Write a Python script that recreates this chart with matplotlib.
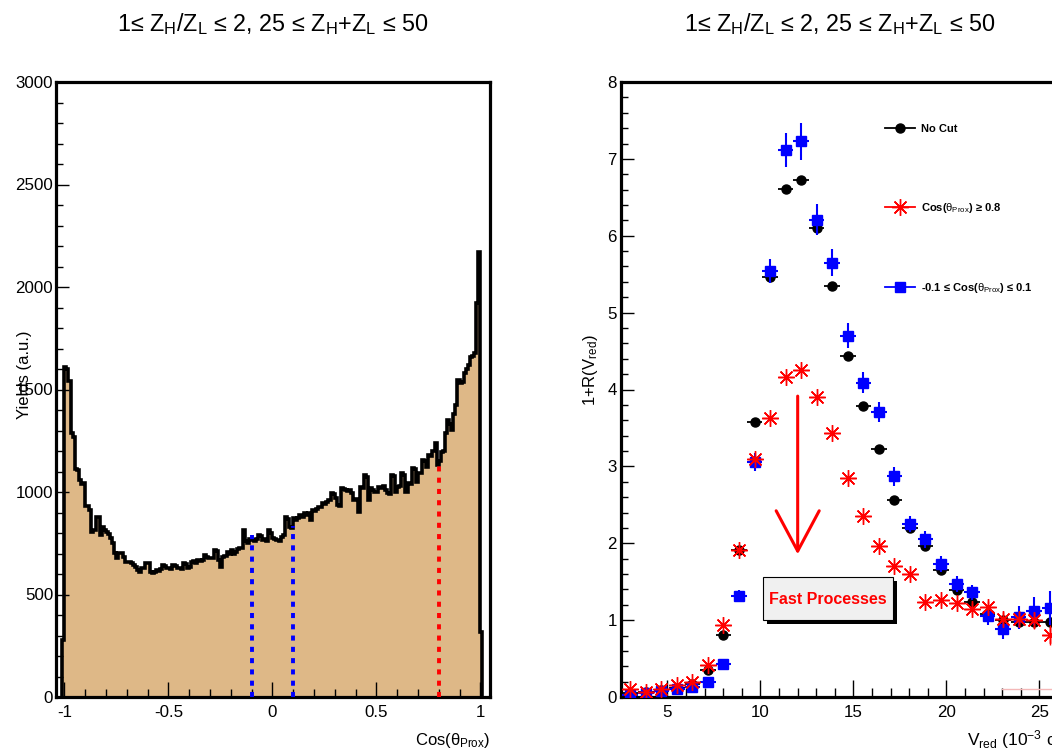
import numpy as np
import matplotlib
matplotlib.use("Agg")
import matplotlib.pyplot as plt
from matplotlib.lines import Line2D
from matplotlib.patches import Rectangle
from matplotlib.ticker import MultipleLocator

plt.rcParams['font.family'] = ['Liberation Sans', 'DejaVu Sans']
plt.rcParams['mathtext.fontset'] = 'custom'
plt.rcParams['mathtext.rm'] = 'Liberation Sans'
plt.rcParams['mathtext.it'] = 'Liberation Sans'
plt.rcParams['mathtext.bf'] = 'Liberation Sans:bold'

# ---------------- Left panel: Cos(theta_Prox) histogram ----------------
cos_lo, cos_hi, cos_width = -1.01, 1.01, 0.01
cos_counts = [
    277,
    1608, 1600, 1540, 1290, 1270, 1110, 1105, 1060, 1040, 1045,
    930, 930, 912, 806, 815, 880, 880, 790, 831, 815,
    806, 796, 775, 750, 701, 676, 701, 701, 684, 660,
    660, 660, 652, 644, 636, 619, 611, 628, 628, 652,
    652, 611, 605, 611, 619, 615, 622, 644, 640, 630,
    628, 625, 644, 638, 628, 630, 625, 652, 648, 628,
    632, 660, 662, 655, 668, 665, 670, 692, 685, 676,
    676, 680, 717, 710, 668, 636, 684, 690, 709, 700,
    715, 700, 705, 720, 725, 725, 815, 760, 750, 770,
    766, 760, 770, 790, 785, 766, 770, 760, 815, 800,
    775, 770, 766, 760, 782, 790, 879, 870, 830, 822,
    871, 865, 875, 888, 880, 896, 890, 900, 863, 912,
    905, 915, 928, 925, 945, 940, 950, 961, 994, 990,
    969, 937, 930, 1018, 1015, 1010, 1005, 1010, 994, 961,
    965, 904, 1026, 1020, 1083, 1075, 961, 1018, 1012, 1002,
    1000, 1026, 1020, 1030, 1010, 994, 990, 1083, 1078, 1002,
    1026, 1030, 1091, 1085, 1002, 1042, 1038, 1115, 1110, 1050,
    1091, 1095, 1156, 1150, 1124, 1180, 1175, 1200, 1240, 1130,
    1150, 1195, 1200, 1286, 1351, 1330, 1302, 1380, 1424, 1546,
    1530, 1535, 1579, 1600, 1620, 1660, 1665, 1677, 1920, 2172,
    315,
]
cut_positions = [-0.1, 0.1, 0.8]
cut_heights = [790, 834, 1150]
cut_colors = ['blue', 'blue', 'red']

# ---------------- Right panel: 1+R(V_red) ----------------
v_red = [3.00, 3.84, 4.67, 5.51, 6.34, 7.18, 8.01, 8.85, 9.68, 10.52,
         11.35, 12.19, 13.02, 13.86, 14.69, 15.53, 16.36, 17.20, 18.03, 18.87,
         19.70, 20.54, 21.37, 22.21, 23.04, 23.88, 24.71, 25.55]
v_half_width = 0.42
r_nocut = [0.05, 0.06, 0.09, 0.12, 0.17, 0.35, 0.81, 1.91, 3.58, 5.46,
           6.61, 6.73, 6.10, 5.34, 4.44, 3.79, 3.22, 2.56, 2.20, 1.96,
           1.65, 1.39, 1.23, 1.08, 1.00, 0.98, 0.98, 0.98]
r_nocut_err = [0.01, 0.01, 0.01, 0.01, 0.01, 0.01, 0.02, 0.03, 0.03, 0.04,
               0.04, 0.04, 0.04, 0.04, 0.03, 0.03, 0.03, 0.03, 0.03, 0.03,
               0.03, 0.03, 0.03, 0.03, 0.03, 0.03, 0.03, 0.04]
r_fwd = [0.10, 0.07, 0.10, 0.15, 0.20, 0.41, 0.94, 1.91, 3.10, 3.63,
         4.16, 4.25, 3.90, 3.44, 2.85, 2.35, 1.97, 1.70, 1.60, 1.23,
         1.26, 1.22, 1.15, 1.17, 1.01, 1.01, 1.00, 0.81]
r_fwd_err = [0.02, 0.02, 0.02, 0.02, 0.02, 0.03, 0.03, 0.04, 0.05, 0.05,
             0.05, 0.05, 0.05, 0.05, 0.05, 0.05, 0.05, 0.05, 0.05, 0.05,
             0.06, 0.06, 0.07, 0.08, 0.09, 0.10, 0.11, 0.13]
r_side = [0.03, 0.05, 0.08, 0.10, 0.13, 0.19, 0.43, 1.31, 3.06, 5.54,
          7.12, 7.23, 6.21, 5.65, 4.70, 4.09, 3.71, 2.87, 2.25, 2.05,
          1.73, 1.47, 1.36, 1.05, 0.88, 1.04, 1.12, 1.16]
r_side_err = [0.02, 0.02, 0.02, 0.02, 0.03, 0.03, 0.05, 0.08, 0.12, 0.16,
              0.22, 0.24, 0.2, 0.18, 0.16, 0.14, 0.13, 0.12, 0.11, 0.11,
              0.1, 0.1, 0.1, 0.11, 0.12, 0.15, 0.18, 0.22]
legend_labels = ['No Cut',
                 r'Cos($\theta_{\rm Prox}$) ≥ 0.8',
                 r'-0.1 ≤ Cos($\theta_{\rm Prox}$) ≤ 0.1']

W, H = 1052, 749
fig = plt.figure(figsize=(W / 100, H / 100), dpi=100)

def px(x0, y0, w, h):
    return [x0 / W, 1 - (y0 + h) / H, w / W, h / H]

title = r'1≤ Z$_{\rm H}$/Z$_{\rm L}$ ≤ 2, 25 ≤ Z$_{\rm H}$+Z$_{\rm L}$ ≤ 50'
tick_fs = 12.2
label_fs = 12

# ---- left axes
ax1 = fig.add_axes(px(56, 82, 434, 615))
edges = np.linspace(cos_lo, cos_hi, len(cos_counts) + 1)
ax1.stairs(cos_counts, edges, fill=True, color='#deb887', zorder=1)
ax1.stairs(cos_counts, edges, color='black', lw=2.6, zorder=2)
for xc, hc, cc in zip(cut_positions, cut_heights, cut_colors):
    ax1.plot([xc, xc], [0, hc], color=cc, lw=2.8, ls=(0, (1.3, 1.6)), zorder=3)
ax1.set_xlim(-1.04, 1.0466)
ax1.set_ylim(0, 3000)
ax1.xaxis.set_major_locator(MultipleLocator(0.5))
ax1.xaxis.set_minor_locator(MultipleLocator(0.1))
ax1.yaxis.set_major_locator(MultipleLocator(500))
ax1.yaxis.set_minor_locator(MultipleLocator(100))
ax1.set_xticks([-1, -0.5, 0, 0.5, 1])
ax1.set_xticklabels(['-1', '-0.5', '0', '0.5', '1'])

ax1.tick_params(axis='x', which='major', direction='in', length=11, width=1.0,
                labelsize=tick_fs, pad=6, top=False)
ax1.tick_params(axis='x', which='minor', direction='in', length=6, width=1.0, top=False)
ax1.tick_params(axis='y', which='major', direction='in', length=9, width=1.0,
                labelsize=tick_fs, pad=2, right=False)
ax1.tick_params(axis='y', which='minor', direction='in', length=5, width=1.0, right=False)
for s in ax1.spines.values():
    s.set_linewidth(2.3)
fig.text(25 / W, 1 - 375 / H, 'Yields (a.u.)', rotation=90, ha='center', va='center',
         fontsize=label_fs)
fig.text(490 / W, 1 - 740 / H, r'Cos($\theta_{\rm Prox}$)', ha='right', va='center',
         fontsize=label_fs)
fig.text(273 / W, 1 - 24 / H, title, ha='center', va='center', fontsize=16.8)

# ---- right axes
ax2 = fig.add_axes(px(621, 82, 438, 615))
ax2.errorbar(v_red, r_nocut, xerr=v_half_width, yerr=r_nocut_err, fmt='o', color='black',
             ms=6.5, lw=1.3, capsize=0, zorder=3)
ax2.errorbar(v_red, r_side, xerr=v_half_width, yerr=r_side_err, fmt='s', color='blue',
             ms=7.5, lw=1.5, capsize=0, zorder=4)
ax2.errorbar(v_red, r_fwd, xerr=v_half_width, yerr=r_fwd_err, fmt='none', ecolor='red',
             lw=1.0, capsize=0, zorder=5)
ax2.plot(v_red, r_fwd, ls='none', marker=(8, 2, 0), ms=12, mew=1.0, color='red', zorder=5)
ax2.set_xlim(2.5, 26.05)
ax2.set_ylim(0, 8)
ax2.xaxis.set_major_locator(MultipleLocator(5))
ax2.xaxis.set_minor_locator(MultipleLocator(1))
ax2.yaxis.set_major_locator(MultipleLocator(1))
ax2.yaxis.set_minor_locator(MultipleLocator(0.2))
ax2.tick_params(axis='x', which='major', direction='in', length=12, width=1.0,
                labelsize=tick_fs, pad=6, top=False)
ax2.tick_params(axis='x', which='minor', direction='in', length=6.5, width=1.0, top=False)
ax2.tick_params(axis='y', which='major', direction='in', length=9, width=1.0,
                labelsize=tick_fs, pad=3, right=False)
ax2.tick_params(axis='y', which='minor', direction='in', length=5, width=1.0, right=False)
for s in ax2.spines.values():
    s.set_linewidth(2.3)
fig.text(590 / W, 1 - 370 / H, r'1+R(V$_{\rm red}$)', rotation=90, ha='center',
         va='center', fontsize=label_fs)
fig.text(967 / W, 1 - 740 / H, r'V$_{\rm red}$ (10$^{-3}$ c)', ha='left', va='center',
         fontsize=label_fs + 0.5)
fig.text(840 / W, 1 - 24 / H, title, ha='center', va='center', fontsize=16.8)

# arrow
ax2.annotate('', xy=(12.0, 1.82), xytext=(12.0, 3.95),
             arrowprops=dict(arrowstyle='->,head_length=2.9,head_width=1.55',
                             color='red', lw=2.2))
# Fast Processes box with shadow
ax2.add_patch(Rectangle((10.37, 0.95), 6.98, 0.56, facecolor='black', edgecolor='none',
                        zorder=6))
ax2.add_patch(Rectangle((10.15, 1.00), 6.98, 0.56, facecolor='#f0f0f0', edgecolor='black',
                        lw=0.8, zorder=7))
ax2.text(13.64, 1.27, 'Fast Processes', color='red', fontsize=11.5, fontweight='bold',
         ha='center', va='center', zorder=8)
# faint line at lower right
ax2.plot([23.0, 26.05], [0.104, 0.104], color='#f4b8b8', lw=1.0, zorder=2)

# legend
handles = [
    Line2D([0], [0], color='black', marker='o', ms=6.5, lw=1.3),
    Line2D([0], [0], color='red', marker=(8, 2, 0), ms=12, mew=1.0, lw=1.3),
    Line2D([0], [0], color='blue', marker='s', ms=7.5, lw=1.3),
]
leg = ax2.legend(handles, legend_labels, loc='upper left',
                 bbox_to_anchor=(885 / W, 1 - 124 / H), bbox_transform=fig.transFigure,
                 frameon=False, prop={'weight': 'bold', 'size': 8},
                 labelspacing=6.0, handlelength=2.7, handletextpad=0.5,
                 borderaxespad=0, borderpad=0)

fig.savefig('out.png', dpi=100)
